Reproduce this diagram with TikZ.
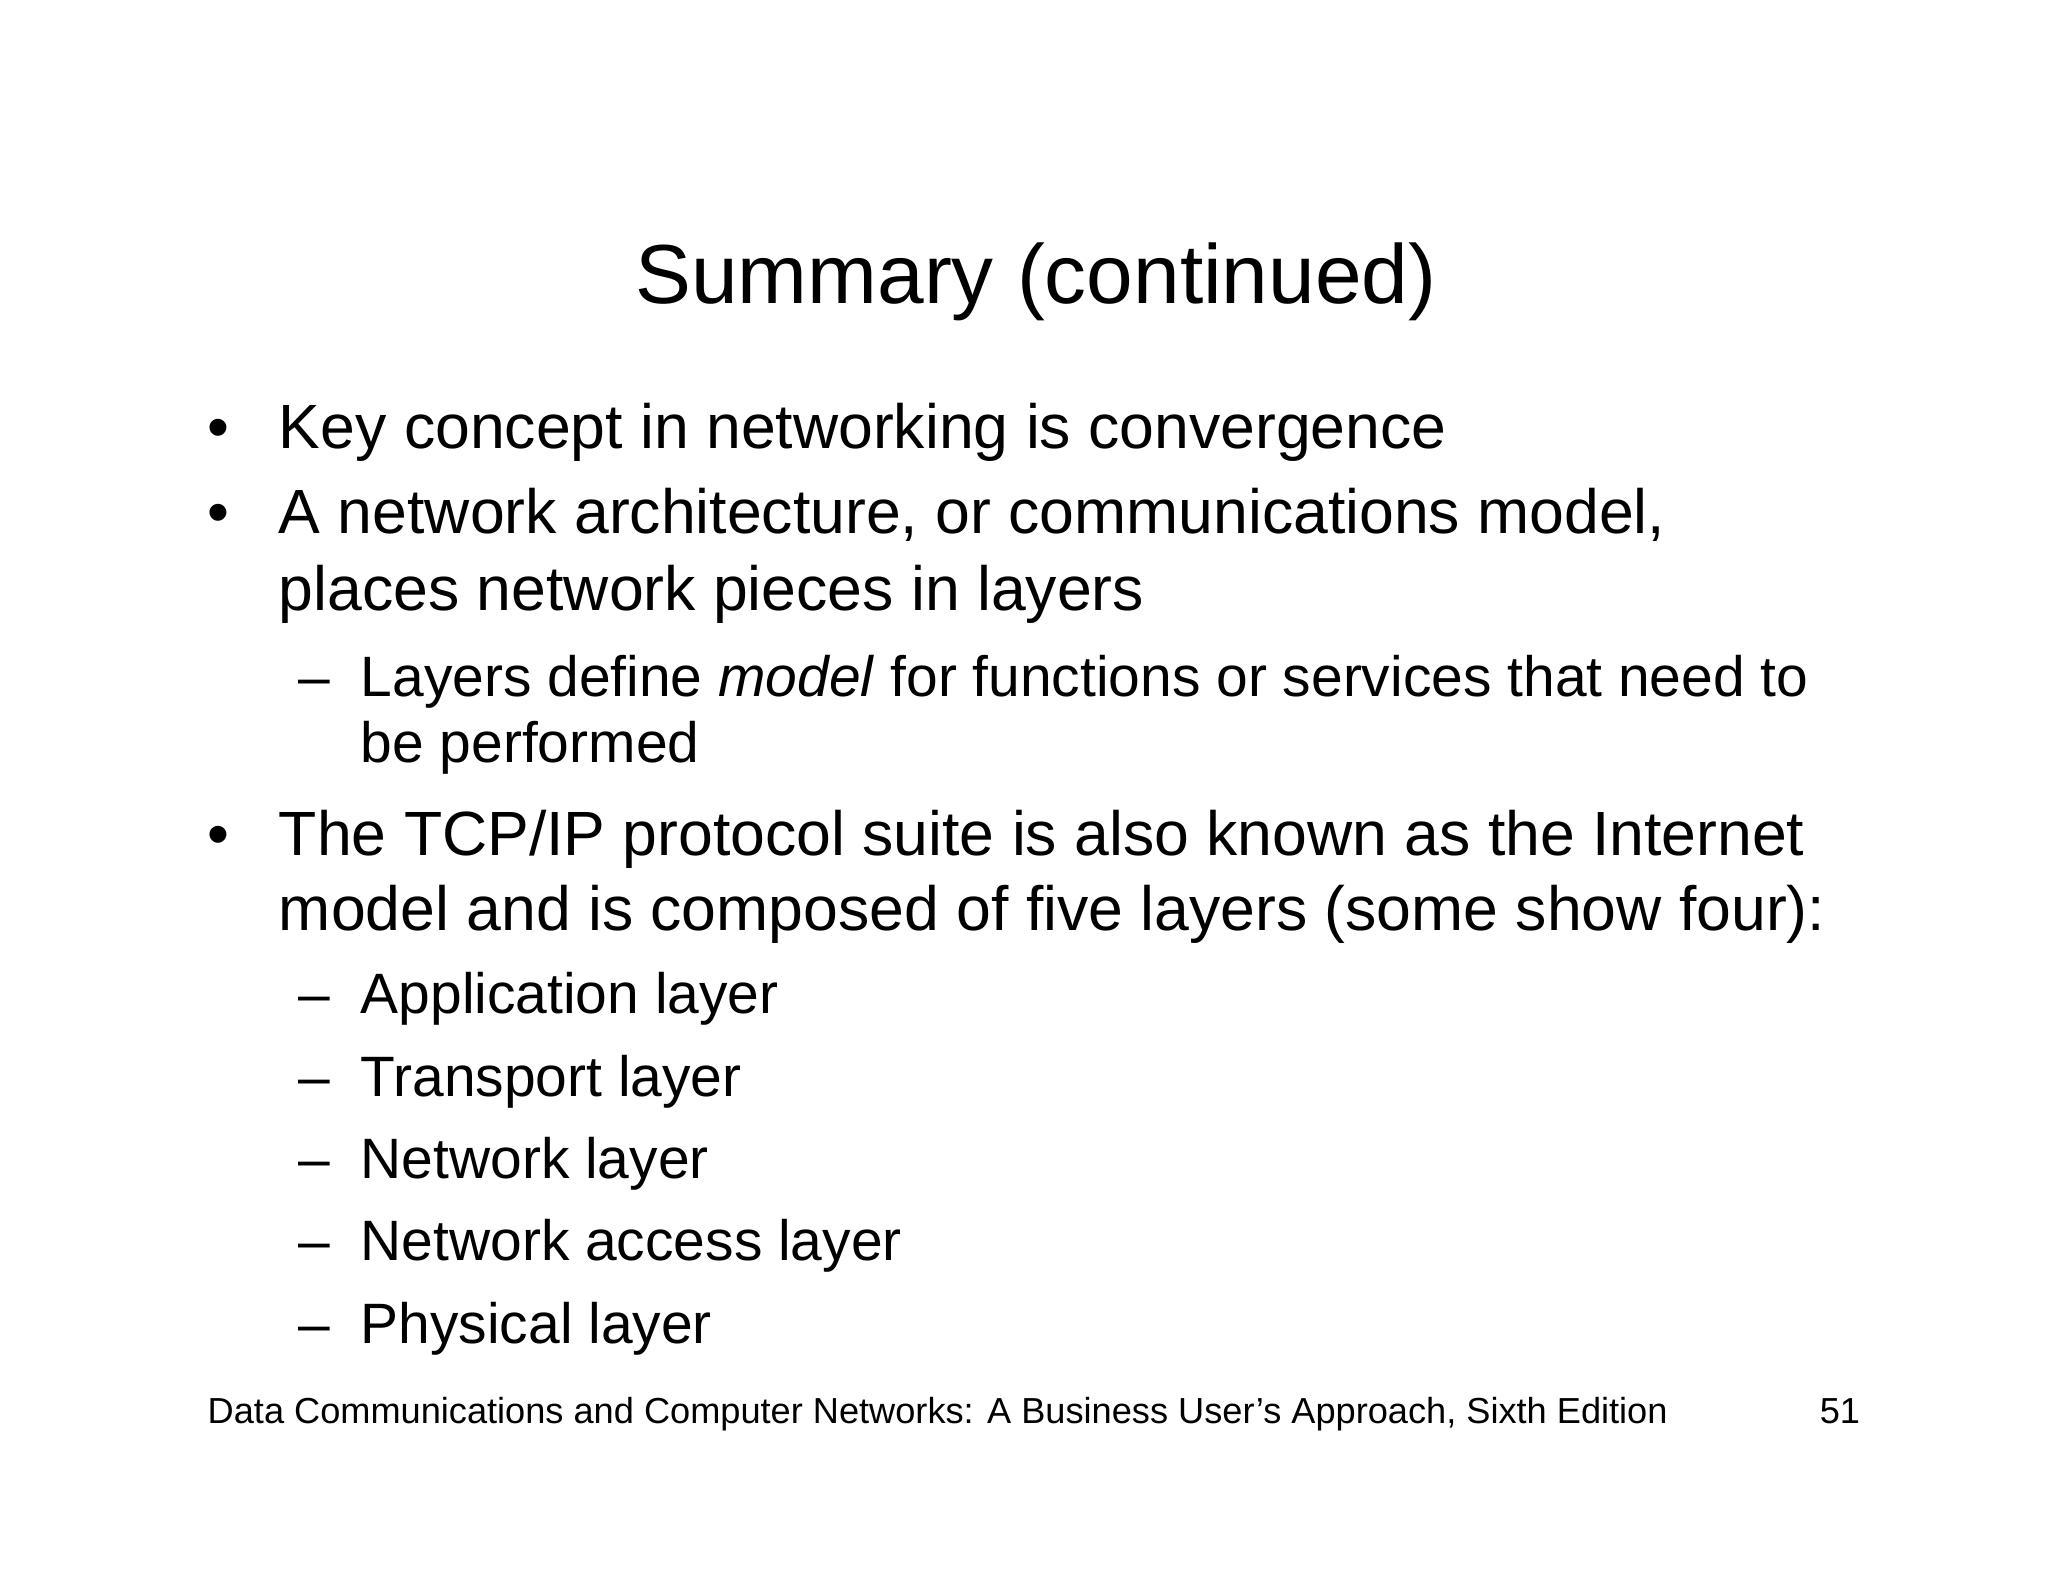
\documentclass[tikz,border=0pt]{standalone}
\usepackage{fontspec}
\setmainfont{Liberation Sans}
\begin{document}
\begin{tikzpicture}[x=0.496pt,y=-0.496pt,
  t1/.style={anchor=base west,inner sep=0,font=\fontsize{23.5}{28}\selectfont},
  t2/.style={anchor=base west,inner sep=0,font=\fontsize{21.4}{25}\selectfont},
  ft/.style={inner sep=0,font=\fontsize{13.6}{16}\selectfont}]
\useasboundingbox[fill=white] (0,0) rectangle (1552,1199);
\node[anchor=base,inner sep=0,font=\fontsize{31.5}{38}\selectfont] (title) at (785,230) {Summary (continued)};
\node[t1] (b1) at (157,340) {•};
\node[t1] (l1) at (211,340) {Key concept in networking is convergence};
\node[t1] (b2) at (157,404) {•};
\node[t1] (l2) at (211,404) {A network architecture, or communications model,};
\node[t1] (l3) at (211,463) {places network pieces in layers};
\node[t2] (d1) at (226,528) {–};
\node[t2] (s1) at (273,528) {Layers define \textit{model} for functions or services that need to};
\node[t2] (s2) at (273,578) {be performed};
\node[t1] (b3) at (157,648) {•};
\node[t1] (l4) at (211,648) {The TCP/IP protocol suite is also known as the Internet};
\node[t1] (l5) at (211,705) {model and is composed of five layers (some show four):};
\foreach \y/\t [count=\i] in {768/Application layer,831/Transport layer,893/Network layer,955/Network access layer,1018/Physical layer}{
  \node[t2] (dd\i) at (226,\y) {–};
  \node[t2] (ss\i) at (273,\y) {\t};
}
\node[ft,anchor=base west] (foot) at (157,1079) {Data Communications and Computer Networks: A Business User\symbol{39}s Approach, Sixth Edition};
\node[ft,anchor=base east] (num) at (1410,1079) {51};
\end{tikzpicture}
\end{document}
